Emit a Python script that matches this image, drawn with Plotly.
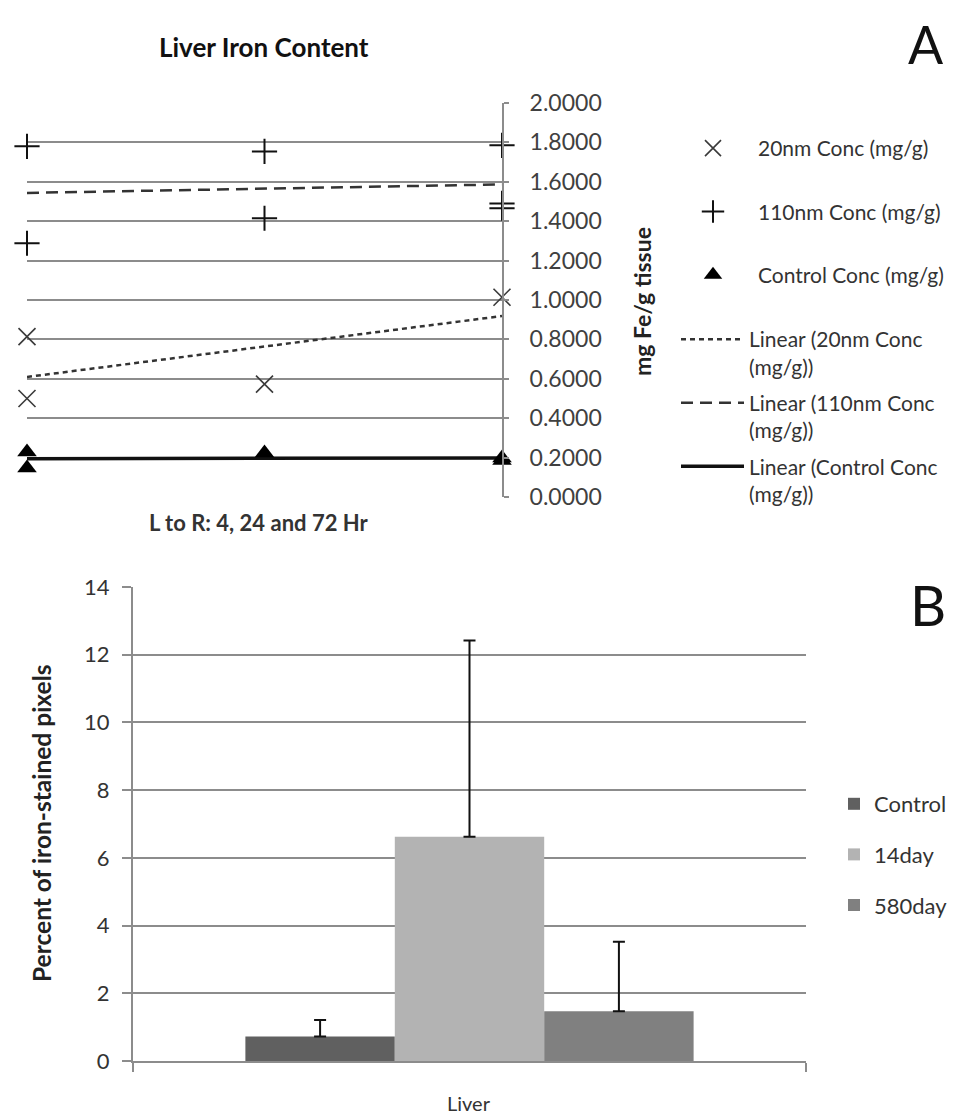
import numpy as np
import plotly.graph_objects as go

# ---------------- Panel A data ----------------
# x positions: 1 = 4 Hr, 2 = 24 Hr, 3 = 72 Hr
x20 = [1, 1, 2, 3]
y20 = [0.814, 0.500, 0.573, 1.014]
x110 = [1, 1, 2, 2, 3, 3, 3]
y110 = [1.780, 1.288, 1.754, 1.415, 1.785, 1.490, 1.466]
xctl = [1, 1, 2, 3, 3]
yctl = [0.228, 0.147, 0.223, 0.198, 0.185]
yA_ticks = [0.0, 0.2, 0.4, 0.6, 0.8, 1.0, 1.2, 1.4, 1.6, 1.8, 2.0]

# ---------------- Panel B data ----------------
groups = ["Control", "14day", "580day"]
category = ["Liver"]
bar_vals = [0.72, 6.62, 1.47]
bar_err = [0.49, 5.80, 2.05]
bar_colors = ["#606060", "#b3b3b3", "#808080"]
yB_ticks = [0, 2, 4, 6, 8, 10, 12, 14]

# page has an 8px body margin; figure is sized so it fits the window
OFF = 8
W, H = 956 - OFF, 1115 - OFF
FONT = "Lato"


def px_x(p):
    return (p - OFF) / W


def px_y(p):
    return 1 - (p - OFF) / H


def trend(xs, ys):
    m, b = np.polyfit(xs, ys, 1)
    xx = np.array([min(xs), max(xs)])
    return xx, m * xx + b


fig = go.Figure()

# markers (legend 1)
fig.add_trace(go.Scatter(x=x20, y=y20, mode="markers", name="20nm Conc (mg/g)", cliponaxis=False,
                         marker=dict(symbol="x-thin", size=17, line=dict(width=1.6, color="#3a3a3a")),
                         xaxis="x", yaxis="y", legend="legend", legendgroup="a1"))
fig.add_trace(go.Scatter(x=x110, y=y110, mode="markers", name="110nm Conc (mg/g)", cliponaxis=False,
                         marker=dict(symbol="cross-thin", size=18, line=dict(width=2, color="#111111")),
                         xaxis="x", yaxis="y", legend="legend", legendgroup="a2"))

# trend lines (legend 2)
tx, ty = trend(x20, y20)
fig.add_trace(go.Scatter(x=tx, y=ty, mode="lines", name="Linear (20nm Conc<br>(mg/g))",
                         line=dict(color="#333333", width=2.5, dash="5px,4px"),
                         xaxis="x", yaxis="y", legend="legend2", legendgroup="b1"))
tx, ty = trend(x110, y110)
fig.add_trace(go.Scatter(x=tx, y=ty, mode="lines", name="Linear (110nm Conc<br>(mg/g))",
                         line=dict(color="#333333", width=2.5, dash="12px,7px"),
                         xaxis="x", yaxis="y", legend="legend2", legendgroup="b2"))
tx, ty = trend(xctl, yctl)
fig.add_trace(go.Scatter(x=tx, y=ty, mode="lines", name="Linear (Control Conc<br>(mg/g))",
                         line=dict(color="#111111", width=3.5),
                         xaxis="x", yaxis="y", legend="legend2", legendgroup="b3"))

fig.add_trace(go.Scatter(x=xctl, y=yctl, mode="markers", name="Control Conc (mg/g)", cliponaxis=False,
                         marker=dict(symbol="triangle-up", size=17, color="#000000"),
                         xaxis="x", yaxis="y", legend="legend", legendgroup="a3"))

# Panel B bars
for g, v, e, c in zip(groups, bar_vals, bar_err, bar_colors):
    fig.add_trace(go.Bar(x=category, y=[v], name=g, marker=dict(color=c, line=dict(width=0)),
                         error_y=dict(type="data", symmetric=False, array=[e], arrayminus=[0],
                                      color="#111111", thickness=2, width=6),
                         xaxis="x2", yaxis="y2", legend="legend3", legendgroup="c" + g))

grid = "#8c8c8c"

fig.update_layout(
    width=W, height=H,
    margin=dict(l=0, r=0, t=0, b=0, autoexpand=False),
    paper_bgcolor="white", plot_bgcolor="white",
    font=dict(family=FONT, color="#333333"),
    showlegend=True,
    barmode="group", bargap=0.334, bargroupgap=0,
    xaxis=dict(domain=[px_x(27), px_x(502)], range=[1, 3], showgrid=False, zeroline=False,
               showticklabels=False, showline=False, anchor="y", automargin=False),
    yaxis=dict(domain=[px_y(497), px_y(103)], range=[0, 2], side="right", anchor="x", automargin=False,
               tickvals=yA_ticks, tickformat=".4f", showgrid=True, gridcolor=grid, gridwidth=2,
               zeroline=False, showline=True, linecolor=grid, linewidth=2,
               ticks="outside", ticklen=5, tickcolor=grid, tickwidth=1.5,
               tickfont=dict(size=23, color="#404040", family=FONT), ticklabelstandoff=16),
    xaxis2=dict(domain=[px_x(133), px_x(806)], anchor="y2", type="category", automargin=False,
                showgrid=False, zeroline=False, showticklabels=False,
                showline=True, linecolor=grid, linewidth=2,
                ticks="outside", tickson="boundaries", ticklen=9, tickcolor=grid, tickwidth=2),
    yaxis2=dict(domain=[px_y(1061), px_y(587)], anchor="x2", range=[0, 14], tickvals=yB_ticks,
                automargin=False,
                showgrid=True, gridcolor=grid, gridwidth=2, zeroline=False,
                showline=True, linecolor=grid, linewidth=2,
                ticks="outside", ticklen=9, tickcolor=grid, tickwidth=2,
                tickfont=dict(size=22, color="#333333", family=FONT), ticklabelstandoff=8),
    legend=dict(x=px_x(668), y=px_y(128), xanchor="left", yanchor="top",
                font=dict(size=21, color="#333333", family=FONT), tracegroupgap=33,
                itemwidth=80, bgcolor="rgba(0,0,0,0)"),
    legend2=dict(x=px_x(676), y=px_y(319), xanchor="left", yanchor="top",
                 font=dict(size=21, color="#333333", family=FONT), tracegroupgap=6,
                 valign="top", itemwidth=63, bgcolor="rgba(0,0,0,0)"),
    legend3=dict(x=px_x(834), y=px_y(783), xanchor="left", yanchor="top",
                 font=dict(size=22, color="#333333", family=FONT), tracegroupgap=19,
                 itemwidth=30, bgcolor="rgba(0,0,0,0)"),
)

ann = dict(xref="paper", yref="paper", showarrow=False, xanchor="center", yanchor="middle")
fig.add_annotation(text="<b>Liver Iron Content</b>", x=px_x(264), y=px_y(47),
                   font=dict(size=26, color="#111111", family=FONT), **ann)
fig.add_annotation(text="A", x=px_x(926), y=px_y(44),
                   font=dict(size=52, color="#111111", family=FONT), **ann)
fig.add_annotation(text="B", x=px_x(928), y=px_y(604),
                   font=dict(size=56, color="#111111", family=FONT), **ann)
fig.add_annotation(text="<b>L to R: 4, 24 and 72 Hr</b>", x=px_x(259), y=px_y(522),
                   font=dict(size=22, color="#333333", family=FONT), **ann)
fig.add_annotation(text="<b>mg Fe/g tissue</b>", x=px_x(642), y=px_y(302), textangle=-90,
                   font=dict(size=23, color="#222222", family=FONT), **ann)
fig.add_annotation(text="<b>Percent of iron-stained pixels</b>", x=px_x(41), y=px_y(823), textangle=-90,
                   font=dict(size=24.5, color="#222222", family=FONT), **ann)
fig.add_annotation(text="Liver", x=px_x(469), y=px_y(1103),
                   font=dict(size=20, color="#333333", family=FONT), **ann)

fig.write_html("out.html")
